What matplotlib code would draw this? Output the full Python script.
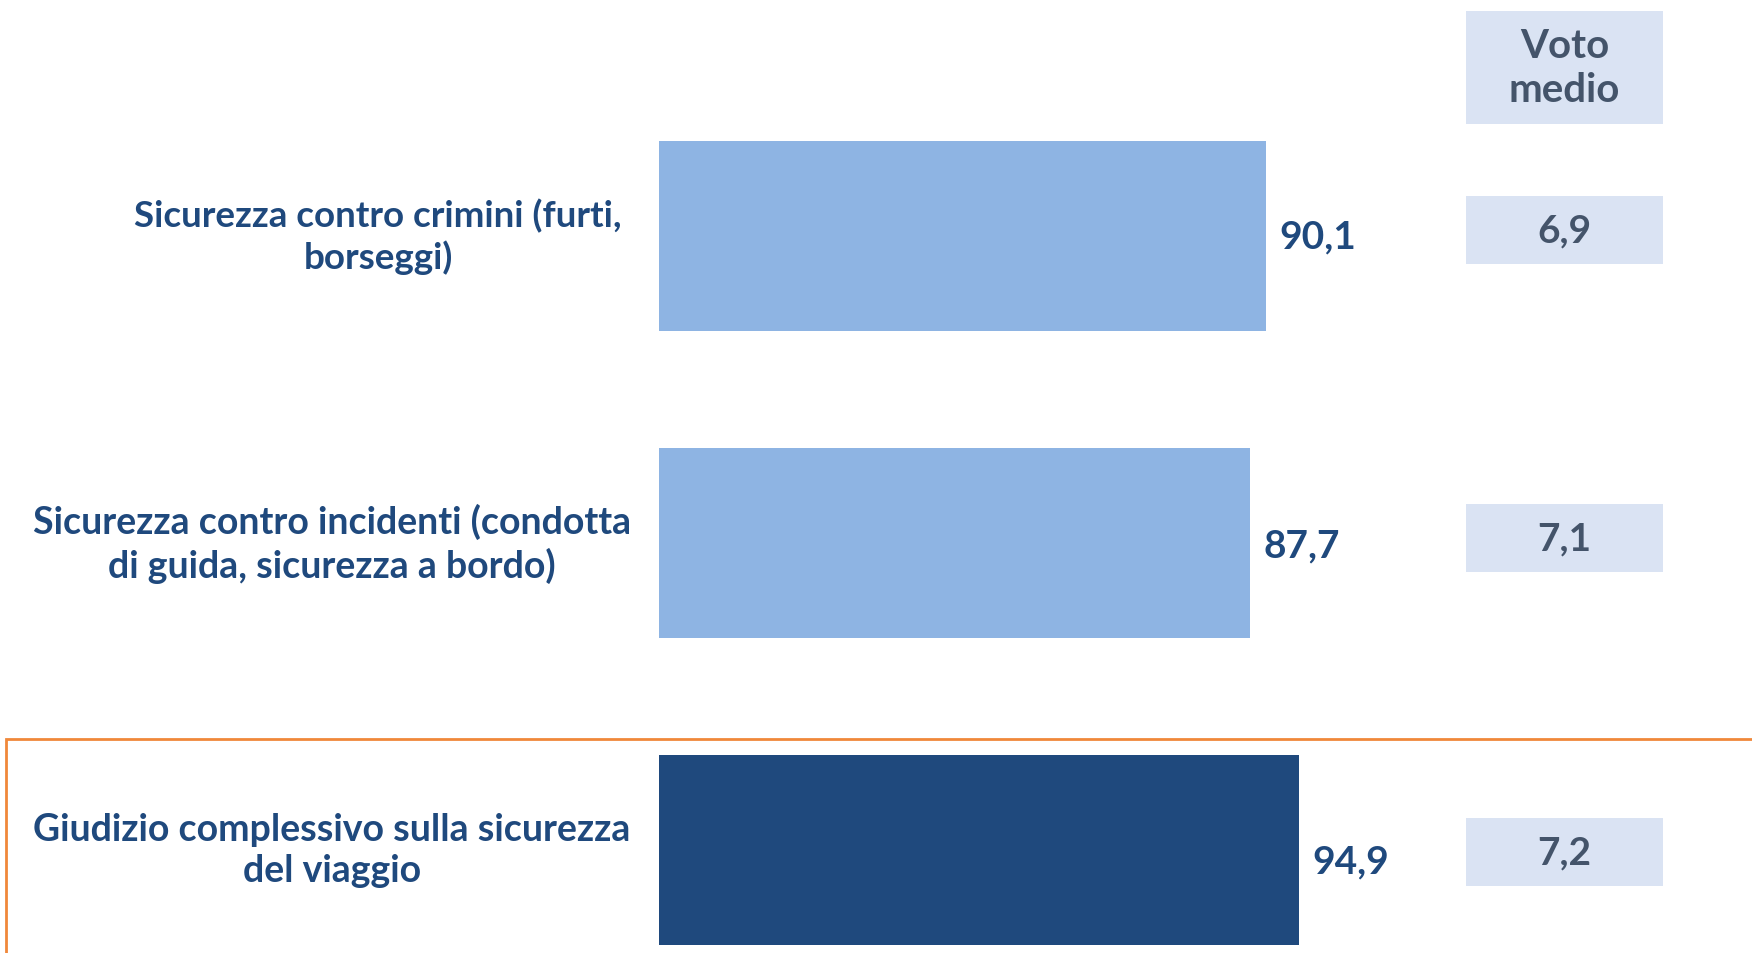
import matplotlib
matplotlib.use("Agg")
import matplotlib.pyplot as plt
from matplotlib.patches import Rectangle

# Data
categories = [
    "Sicurezza contro crimini (furti,\nborseggi)",
    "Sicurezza contro incidenti (condotta\ndi guida, sicurezza a bordo)",
    "Giudizio complessivo sulla sicurezza\ndel viaggio",
]
values = [90.1, 87.7, 94.9]
voto_medio = [6.9, 7.1, 7.2]
header = "Voto\nmedio"

def fmt(v):
    return f"{v:.1f}".replace(".", ",")

W, H = 1752, 954
DPI = 100
fig = plt.figure(figsize=(W / DPI, H / DPI), dpi=DPI)
fig.patch.set_facecolor("white")

FONT = "Lato"
DARK = "#1F497D"
LIGHT = "#8EB4E3"
GREY = "#44546A"
BOXC = "#DAE3F3"

# Axes: x=0 at 659 px, 6.74 px per unit; bars at 307 px pitch
x0_px = 659
px_per_unit = 6.74
ax = fig.add_axes([x0_px / W, 0, 1 - x0_px / W, 1])
ax.set_xlim(0, (W - x0_px) / px_per_unit)
pitch = 307.0
c0 = 237.0
ax.set_ylim((H - c0) / pitch, -c0 / pitch)
ax.axis("off")

ypos = list(range(len(values)))
colors = [LIGHT, LIGHT, DARK]
ax.barh(ypos, values, height=0.62, color=colors, edgecolor="none")

value_dy = [0.0, 0.005, 0.035]
for y, v, dy in zip(ypos, values, value_dy):
    ax.text(v + 2.0, y + dy, fmt(v), ha="left", va="center",
            fontsize=28, fontweight="bold", color=DARK, family=FONT)

# Category labels to the left of the bars
label_x = [-41.7, -48.5, -48.5]
label_fs = [26.5, 27, 27]
for y, lab, lx, fs in zip(ypos, categories, label_x, label_fs):
    ax.text(lx, y, lab, ha="center", va="center", fontsize=fs,
            fontweight="bold", color=DARK, family=FONT,
            linespacing=1.25, clip_on=False)

# Average score column
bx0 = (1466 - x0_px) / px_per_unit
bx1 = (1663 - x0_px) / px_per_unit
bh = 68 / pitch
box_dy = [-0.018, -0.015, 0.005]
for y, m, dy in zip(ypos, voto_medio, box_dy):
    yc = y + dy
    ax.add_patch(Rectangle((bx0, yc - bh / 2), bx1 - bx0, bh,
                           facecolor=BOXC, edgecolor="none"))
    ax.text((bx0 + bx1) / 2, yc, fmt(m), ha="center", va="center",
            fontsize=28, fontweight="bold", color=GREY, family=FONT)

hy0 = (12 - c0) / pitch
hy1 = (125 - c0) / pitch
ax.add_patch(Rectangle((bx0, hy0), bx1 - bx0, hy1 - hy0,
                       facecolor=BOXC, edgecolor="none"))
ax.text((bx0 + bx1) / 2, (hy0 + hy1) / 2, header, ha="center", va="center",
        fontsize=29, fontweight="bold", color=GREY, family=FONT,
        linespacing=1.22)

# Highlight frame around the overall judgement row
frame = Rectangle((6 / W, -0.1), 1.2, (H - 740) / H + 0.1,
                  transform=fig.transFigure, facecolor="none",
                  edgecolor="#F0883A", linewidth=2.0, clip_on=False)
fig.patches.append(frame)

fig.savefig("out.png", dpi=DPI, facecolor="white")
